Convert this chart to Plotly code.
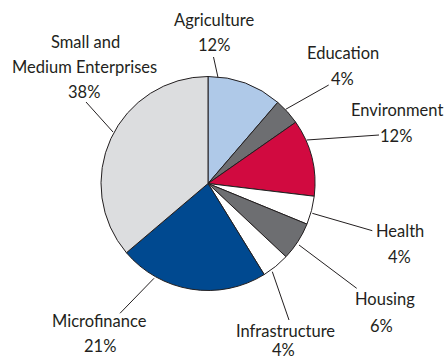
import plotly.graph_objects as go

# ---- data ----
categories = ["Agriculture", "Education", "Environment", "Health", "Housing",
              "Infrastructure", "Microfinance", "Small and Medium Enterprises"]
shares = [11.3, 4.0, 11.6, 4.3, 5.8, 4.2, 22.6, 36.2]   # slice sizes as drawn
pct_labels = ["12%", "4%", "12%", "4%", "6%", "4%", "21%", "38%"]
colors = ["#afc9e8", "#6d6e71", "#d10a40", "#ffffff", "#6d6e71", "#ffffff", "#004990", "#dcdddf"]

W, H = 447, 360
CX, CY, R = 208, 183.5, 107

# label layout (pixel positions): name lines, pct position, leader line endpoints
label_layout = {
    "Agriculture": (["Agriculture"], [(214, 20)], (214, 45), (213.5, 57), (218, 77.5)),
    "Education": (["Education"], [(343, 53)], (342, 79), (328.7, 85), (285.7, 109.3)),
    "Environment": (["Environment"], [(397, 110)], (396, 136), (379, 135), (306.7, 140)),
    "Health": (["Health"], [(400, 231)], (399, 257), (372.3, 230.7), (312.3, 213.3)),
    "Housing": (["Housing"], [(385, 299)], (381, 326), (356.7, 288.3), (299, 245)),
    "Infrastructure": (["Infrastructure"], [(285, 331)], (283, 350), (289, 320), (272.3, 271.7)),
    "Microfinance": (["Microfinance"], [(99, 321)], (100, 346), (120, 313.3), (154, 278.3)),
    "Small and Medium Enterprises": (["Small and", "Medium Enterprises"], [(85, 42), (84, 67)],
                                     (84, 92), (86, 102), (113, 132)),
}

def px(x):
    return x / W

def py(y):
    return 1 - y / H

fig = go.Figure(go.Pie(
    labels=categories,
    values=shares,
    sort=False,
    direction="clockwise",
    rotation=0,
    marker=dict(colors=colors, line=dict(color="#231f20", width=1)),
    textinfo="none",
    hoverinfo="label+percent",
    showlegend=False,
    domain=dict(x=[px(CX - R), px(CX + R)], y=[py(CY + R), py(CY - R)]),
))

font = dict(family="Lato, sans-serif", size=16.5, color="#231f20")
annotations = []
shapes = []
for cat, pct in zip(categories, pct_labels):
    names, name_pos, pct_pos, l0, l1 = label_layout[cat]
    for txt, (x, y) in zip(names, name_pos):
        annotations.append(dict(text=txt, x=px(x), y=py(y), xref="paper", yref="paper",
                                showarrow=False, font=font, xanchor="center", yanchor="middle"))
    annotations.append(dict(text=pct, x=px(pct_pos[0]), y=py(pct_pos[1]), xref="paper", yref="paper",
                            showarrow=False, font=font, xanchor="center", yanchor="middle"))
    shapes.append(dict(type="line", xref="paper", yref="paper",
                       x0=px(l0[0]), y0=py(l0[1]), x1=px(l1[0]), y1=py(l1[1]),
                       line=dict(color="#231f20", width=1)))

fig.update_layout(
    width=W, height=H,
    margin=dict(l=0, r=0, t=0, b=0),
    paper_bgcolor="white",
    plot_bgcolor="white",
    annotations=annotations,
    shapes=shapes,
)

fig.write_html("out.html")
